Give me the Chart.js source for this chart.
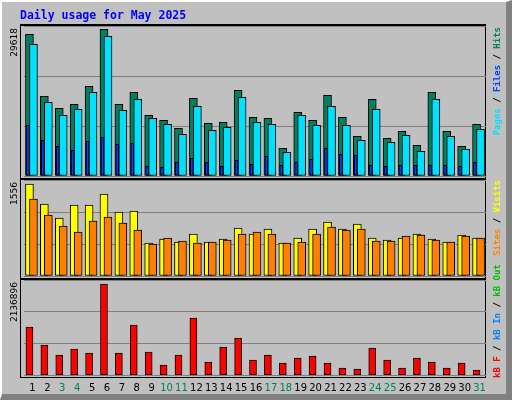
<!DOCTYPE html>
<html>
<head>
<meta charset="utf-8">
<script src="https://cdn.jsdelivr.net/npm/chart.js@4"></script>
<style>
  body { margin: 0; background: #c0c0c0; }
  #frame { position: absolute; left: 0; top: 0; background: #c0c0c0;
           border-left: 2px solid #fff; border-top: 2px solid #fff; border-right: 6px solid #808080; border-bottom: 6px solid #808080;
           box-sizing: content-box; width: 504px; height: 392px; }
  .panel { position: absolute; left: 20px; width: 464px; border: 1px solid #000; border-top: 2px solid #000; background: #c0c0c0; }
  canvas { position: absolute; left: 0; top: 0; }
</style>
</head>
<body>
<div id="frame"></div>
<div class="panel" style="top:24px;height:152px"></div>
<div class="panel" style="top:178px;height:98px"></div>
<div class="panel" style="top:278px;height:97px"></div>
<canvas id="c1" width="512" height="400"></canvas>
<canvas id="c2" width="512" height="400"></canvas>
<canvas id="c3" width="512" height="400"></canvas>
<script>
// days of the month, weekends drawn in green
var days = [];
for (var d = 1; d <= 31; d++) days.push(d);
var weekendDays = [3, 4, 10, 11, 17, 18, 24, 25, 31];

// values
var hits = [28610, 16090, 13670, 14480, 18110, 29618, 14480, 16900, 12260, 11250, 9630, 15690, 10640, 10840, 17300, 11850,
            11650, 5590, 12860, 11250, 16290, 11850, 8020, 15490, 7610, 9030, 6200, 16900, 9030, 6000, 10440];
var files = [26590, 14880, 12260, 13470, 16900, 28210, 13270, 15490, 11650, 10440, 8420, 14070, 9230, 9830, 15890, 10840,
             10440, 4790, 12260, 10240, 14070, 10240, 7210, 13470, 6800, 8220, 4990, 15490, 8020, 5390, 9430];
var pages = [10240, 7210, 6000, 5190, 7010, 7810, 6400, 6600, 1960, 1760, 2770, 3570, 2770, 1960, 3170, 2360,
             3980, 2160, 2770, 3370, 5590, 4380, 4180, 2160, 1960, 2160, 2160, 2160, 2160, 1960, 2770];
var visits = [1556, 1218, 981, 1201, 1201, 1387, 1082, 1099, 558, 626, 575, 710, 575, 626, 812, 710,
              795, 558, 643, 795, 913, 795, 879, 643, 609, 643, 710, 626, 575, 693, 643];
var sites = [1302, 1032, 846, 744, 930, 998, 896, 778, 541, 643, 592, 558, 575, 609, 710, 744,
             710, 558, 575, 710, 829, 778, 795, 592, 592, 676, 693, 609, 575, 676, 643];
var kbytes = [1130860, 709710, 475740, 616120, 522530, 2136896, 522530, 1177650, 545930, 241770, 475740, 1341430, 311960, 662920, 873490, 358750,
              475740, 288560, 405550, 452340, 288560, 171580, 148180, 639520, 358750, 171580, 405550, 311960, 171580, 288560, 124780];

var maxLabels = ["29618", "1556", "2136896"];

function pts(values, shift) {
  return values.map(function (v, i) { return { x: days[i] + shift, y: v }; });
}

function bar(label, values, shift, color, width) {
  return { label: label, data: pts(values, shift), backgroundColor: color, borderColor: "#000",
           borderWidth: 1, barThickness: width, grouped: false, borderSkipped: false };
}

// draws rotated max value, side legend and (optionally) day labels
function textPlugin(maxText, legend, legendTop, legendBottomAlign, drawDays, title) {
  return {
    id: "texts",
    afterDraw: function (chart) {
      var c = chart.ctx, a = chart.chartArea;
      c.save();
      c.translate(19, a.top + 2);
      c.rotate(-Math.PI / 2);
      c.font = "9px 'DejaVu Sans'";
      c.fillStyle = "#000";
      c.textAlign = "right";
      c.textBaseline = "bottom";
      c.fillText(maxText, 0, 0);
      c.restore();

      c.save();
      c.font = "bold 9px 'DejaVu Sans Mono'";
      var total = 0;
      legend.forEach(function (p) { total += c.measureText(p[0]).width; });
      c.translate(502, legendBottomAlign ? legendTop : legendTop + total);
      c.rotate(-Math.PI / 2);
      c.textBaseline = "bottom";
      var pos = 0;
      legend.forEach(function (p) {
        c.fillStyle = p[1];
        c.fillText(p[0], pos, 0);
        pos += c.measureText(p[0]).width;
      });
      c.restore();

      if (title) {
        c.save();
        c.font = "bold 11.5px 'DejaVu Sans Mono'";
        c.fillStyle = "#0000ff";
        c.fillText(title, 20, 19);
        c.restore();
      }

      if (drawDays) {
        c.save();
        c.font = "10px 'DejaVu Sans'";
        c.textAlign = "center";
        c.textBaseline = "middle";
        days.forEach(function (d) {
          c.fillStyle = weekendDays.indexOf(d) >= 0 ? "#00805c" : "#000";
          c.fillText(String(d), chart.scales.x.getPixelForValue(d) + 1, 388);
        });
        c.restore();
      }
    }
  };
}

function makeChart(id, datasets, yMax, top, bottom, plugin) {
  return new Chart(document.getElementById(id), {
    type: "bar",
    data: { datasets: datasets },
    options: {
      responsive: false, animation: false,
      layout: { padding: { left: 24, right: 26, top: top, bottom: 400 - bottom } },
      plugins: { legend: { display: false }, tooltip: { enabled: false } },
      scales: {
        x: { type: "linear", min: 0.5, max: 31.5, offset: false, display: false },
        y: { min: 0, max: yMax, ticks: { display: false, stepSize: yMax / 3 },
             border: { display: false },
             grid: { color: "#808080", lineWidth: 1, drawTicks: false } }
      }
    },
    plugins: [plugin]
  });
}

makeChart("c1", [
  bar("Pages", pages, -0.24, "#0040ff", 3),
  bar("Files", files, 0.134, "#00e0ff", 8),
  bar("Hits", hits, -0.134, "#008060", 8)
], 30285, 26, 176, textPlugin(maxLabels[0],
  [["Pages", "#00e0ff"], [" / ", "#000"], ["Files", "#0040ff"], [" / ", "#000"], ["Hits", "#008060"]], 27, false, false,
  "Daily usage for May 2025"));

makeChart("c2", [
  bar("Sites", sites, 0.134, "#ff8000", 8),
  bar("Visits", visits, -0.134, "#ffff00", 8)
], 1624, 180, 276, textPlugin(maxLabels[1],
  [["Sites", "#ff8000"], [" / ", "#000"], ["Visits", "#ffff00"]], 180, false, false));

makeChart("c3", [
  bar("kB F", kbytes, -0.134, "#ff0000", 7)
], 2230480, 280, 375.5, textPlugin(maxLabels[2],
  [["kB F", "#ff0000"], [" / ", "#000"], ["kB In", "#0080ff"], [" / ", "#000"], ["kB Out", "#00c000"]], 378, true, true));
</script>
</body>
</html>
